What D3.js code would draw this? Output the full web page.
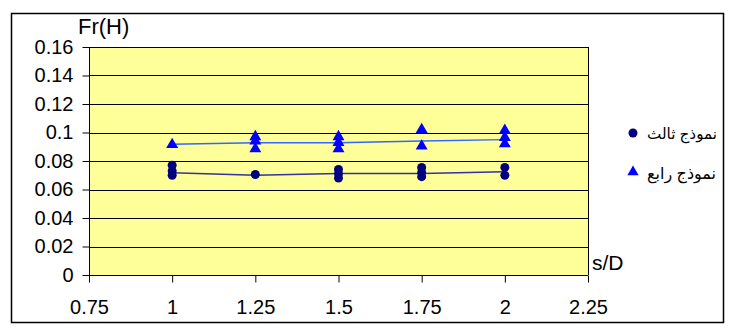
<!DOCTYPE html>
<html>
<head>
<meta charset="utf-8">
<script src="https://cdn.jsdelivr.net/npm/d3@7"></script>
<style>
  html, body { margin: 0; padding: 0; background: #fff; }
  svg text { font-family: "Liberation Sans", Arial, "DejaVu Sans", sans-serif; fill: #000; }
</style>
</head>
<body>
<svg id="chart" width="733" height="332"></svg>
<script>
// s/D positions
const sdValues = [1, 1.25, 1.5, 1.75, 2];

// Model 3 (circles): individual measurements at each s/D
const model3Points = [
  [1, 0.077], [1, 0.073], [1, 0.070],
  [1.25, 0.0705],
  [1.5, 0.074], [1.5, 0.071], [1.5, 0.068],
  [1.75, 0.0755], [1.75, 0.072], [1.75, 0.069],
  [2, 0.0755], [2, 0.070]
];
// Model 3 trend line
const model3Line = [0.0718, 0.0700, 0.0712, 0.0712, 0.0725];

// Model 4 (triangles): individual measurements at each s/D
const model4Points = [
  [1, 0.0915],
  [1.25, 0.097], [1.25, 0.094], [1.25, 0.0885],
  [1.5, 0.097], [1.5, 0.093], [1.5, 0.0885],
  [1.75, 0.102], [1.75, 0.0905],
  [2, 0.1015], [2, 0.0965], [2, 0.092]
];
// Model 4 trend line
const model4Line = [0.0918, 0.0928, 0.0928, 0.0940, 0.0950];

const xTicks = [0.75, 1, 1.25, 1.5, 1.75, 2, 2.25];
const yTicks = [0, 0.02, 0.04, 0.06, 0.08, 0.1, 0.12, 0.14, 0.16];
const seriesNames = ["نموذج ثالث", "نموذج رابع"];

(function draw() {
  const svg = d3.select("#chart");

  // outer frame
  svg.append("rect")
    .attr("x", 11.5).attr("y", 13.5)
    .attr("width", 712).attr("height", 309)
    .attr("fill", "#fff").attr("stroke", "#000").attr("stroke-width", 1.5);

  const pl = 89, pr = 588, pt = 47, pb = 275;
  const x = d3.scaleLinear().domain([0.75, 2.25]).range([pl, pr]);
  const y = d3.scaleLinear().domain([0, 0.16]).range([pb, pt]);

  // plot background
  svg.append("rect")
    .attr("x", pl).attr("y", pt)
    .attr("width", pr - pl).attr("height", pb - pt)
    .attr("fill", "#FFFF99");

  // horizontal gridlines
  svg.append("g").selectAll("line").data(yTicks.slice(1)).join("line")
    .attr("x1", pl).attr("x2", pr)
    .attr("y1", d => Math.round(y(d)) + 0.5).attr("y2", d => Math.round(y(d)) + 0.5)
    .attr("stroke", "#000").attr("stroke-width", 1);

  // right border of plot area
  svg.append("line")
    .attr("x1", pr + 0.5).attr("x2", pr + 0.5)
    .attr("y1", pt).attr("y2", pb)
    .attr("stroke", "#000");

  // axes
  const yAxis = d3.axisLeft(y).tickValues(yTicks)
    .tickFormat(d => String(+d.toFixed(2))).tickSize(7).tickPadding(9);
  const gy = svg.append("g").attr("transform", `translate(${pl + 0.5},0)`).call(yAxis);

  const xAxis = d3.axisBottom(x).tickValues(xTicks)
    .tickFormat(d => String(d)).tickSize(7).tickPadding(17);
  const gx = svg.append("g").attr("transform", `translate(0,${pb + 0.5})`).call(xAxis);

  [gy, gx].forEach(g => {
    g.select(".domain").attr("stroke", "#000").attr("stroke-width", 1);
    g.selectAll(".tick line").attr("stroke", "#000");
    g.selectAll("text").attr("font-size", 20).attr("fill", "#000")
      .attr("font-family", '"Liberation Sans", Arial, sans-serif');
  });
  gx.select(".domain").attr("d", `M${pl},0H${pr}`);
  gy.select(".domain").attr("d", `M0,${pb}V${pt}`);

  // axis titles
  svg.append("text").attr("x", 78).attr("y", 34)
    .attr("font-size", 22).text("Fr(H)");
  svg.append("text").attr("x", 592).attr("y", 270)
    .attr("font-size", 21).text("s/D");

  // trend lines
  const line = d3.line().x(d => x(d[0])).y(d => y(d[1]));
  svg.append("path")
    .datum(sdValues.map((s, i) => [s, model4Line[i]]))
    .attr("d", line).attr("fill", "none")
    .attr("stroke", "#3366FF").attr("stroke-width", 1.5);
  svg.append("path")
    .datum(sdValues.map((s, i) => [s, model3Line[i]]))
    .attr("d", line).attr("fill", "none")
    .attr("stroke", "#333399").attr("stroke-width", 1.5);

  // markers
  const tri = d3.symbol().type(d3.symbolTriangle).size(62);
  svg.append("g").selectAll("path").data(model4Points).join("path")
    .attr("d", tri)
    .attr("transform", d => `translate(${x(d[0])},${y(d[1])})`)
    .attr("fill", "#0000FF");
  svg.append("g").selectAll("circle").data(model3Points).join("circle")
    .attr("cx", d => x(d[0])).attr("cy", d => y(d[1])).attr("r", 4.5)
    .attr("fill", "#000080");

  // legend
  const legend = svg.append("g");
  legend.append("circle").attr("cx", 633).attr("cy", 133).attr("r", 4.5).attr("fill", "#000080");
  legend.append("path").attr("d", d3.symbol().type(d3.symbolTriangle).size(55))
    .attr("transform", "translate(633,172)").attr("fill", "#0000FF");
  const labels = legend.selectAll("text.lbl").data(seriesNames).join("text")
    .attr("class", "lbl")
    .attr("x", 647).attr("y", (d, i) => 139 + i * 40)
    .attr("text-anchor", "start")
    .attr("font-size", 16)
    .attr("font-family", '"DejaVu Sans", "Noto Sans", sans-serif')
    .text(d => d);
  // keep the labels within the frame
  labels.each(function () {
    const w = this.getComputedTextLength();
    if (w > 70) d3.select(this).attr("font-size", 16 * 70 / w);
  });
})();
</script>
</body>
</html>
